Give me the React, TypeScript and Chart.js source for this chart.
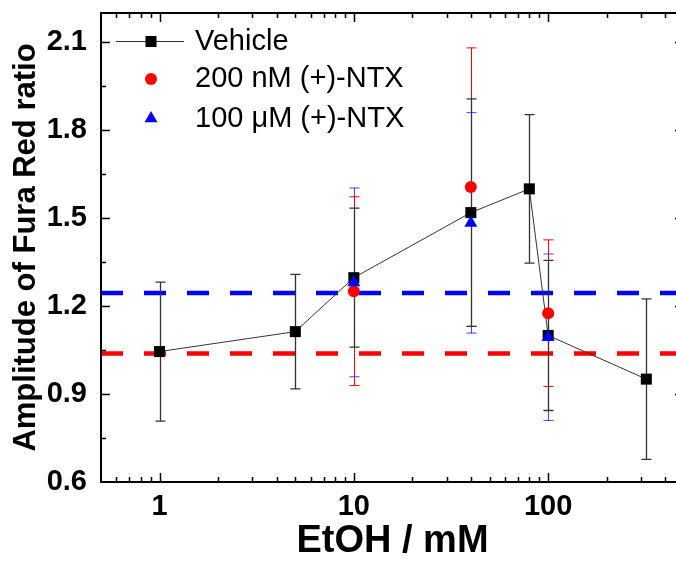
import React, { useEffect, useRef } from "react";
import { Chart, registerables } from "chart.js";

Chart.register(...registerables);

// EtOH concentrations (mM) and Fura Red amplitude, mean ± SD
const vehicleConc = [1, 5, 10, 40, 80, 100, 320];
const vehicleMean = [1.045, 1.113, 1.297, 1.519, 1.6, 1.1, 0.951];
const vehicleSd = [0.237, 0.195, 0.237, 0.388, 0.253, 0.256, 0.274];

const ntxConc = [10, 40, 100];
const ntxLowMean = [1.251, 1.606, 1.176]; // 200 nM (+)-NTX
const ntxLowSd = [0.322, 0.475, 0.25];
const ntxHighMean = [1.281, 1.484, 1.094]; // 100 µM (+)-NTX
const ntxHighSd = [0.322, 0.376, 0.284];

// Baselines without EtOH
const baseLow = 1.038; // 200 nM (+)-NTX
const baseHigh = 1.245; // 100 µM (+)-NTX

const xRange = [0.5, 500];
const yRange = [0.6, 2.2];
const xTicks = [1, 10, 100];
const yTicks = [0.6, 0.9, 1.2, 1.5, 1.8, 2.1];

const legendLabels = ["Vehicle", "200 nM (+)-NTX", "100 \u03bcM (+)-NTX"];

const FONT = "'Liberation Sans', Arial, sans-serif";
const RED = "#ff0000";
const BLUE = "#0000ff";

const pts = (xs: number[], ys: number[]) => xs.map((x, i) => ({ x, y: ys[i] }));

// Error bars for every dataset that carries a yErr array, drawn beneath the markers
const errorBarPlugin = {
  id: "errorBars",
  beforeDatasetDraw(chart: any, args: any) {
    if (args.index !== 2) return;
    const { ctx } = chart;
    const xs = chart.scales.x;
    const ys = chart.scales.y;
    ctx.save();
    chart.data.datasets.forEach((ds: any) => {
      if (!ds.yErr) return;
      ctx.strokeStyle = ds.errColor;
      ctx.lineWidth = ds.errWidth;
      ds.data.forEach((p: any, i: number) => {
        const px = Math.round(xs.getPixelForValue(p.x)) + 0.5;
        const top = ys.getPixelForValue(p.y + ds.yErr[i]);
        const bot = ys.getPixelForValue(p.y - ds.yErr[i]);
        ctx.beginPath();
        ctx.moveTo(px, top);
        ctx.lineTo(px, bot);
        ctx.moveTo(px - 5, top);
        ctx.lineTo(px + 5, top);
        ctx.moveTo(px - 5, bot);
        ctx.lineTo(px + 5, bot);
        ctx.stroke();
      });
    });
    ctx.restore();
  },
};

// Box frame with inward major/minor ticks on all four sides
const framePlugin = {
  id: "frame",
  afterDatasetsDraw(chart: any) {
    const { ctx, chartArea: a } = chart;
    const xs = chart.scales.x;
    const ys = chart.scales.y;
    ctx.save();
    ctx.strokeStyle = "#000";
    ctx.lineWidth = 2;
    ctx.strokeRect(a.left, a.top, a.right - a.left, a.bottom - a.top);
    ctx.lineWidth = 1.5;
    const major = 9;
    const minor = 5;
    const xMarks: [number, number][] = [];
    for (let e = Math.floor(Math.log10(xRange[0])); e <= Math.ceil(Math.log10(xRange[1])); e++) {
      for (let m = 1; m <= 9; m++) {
        const v = m * Math.pow(10, e);
        if (v > xRange[0] * 1.0001 && v < xRange[1] * 0.9999) xMarks.push([v, m === 1 ? major : minor]);
      }
    }
    ctx.beginPath();
    xMarks.forEach(([v, len]) => {
      const px = Math.round(xs.getPixelForValue(v)) + 0.5;
      ctx.moveTo(px, a.bottom);
      ctx.lineTo(px, a.bottom - len);
      ctx.moveTo(px, a.top);
      ctx.lineTo(px, a.top + len);
    });
    const step = yTicks[1] - yTicks[0];
    for (let v = yRange[0]; v < yRange[1] - 1e-6; v += step / 2) {
      if (v <= yRange[0] + 1e-6) continue;
      const isMajor = yTicks.some((t) => Math.abs(t - v) < 1e-6);
      const len = isMajor ? major : minor;
      const py = Math.round(ys.getPixelForValue(v)) + 0.5;
      ctx.moveTo(a.left, py);
      ctx.lineTo(a.left + len, py);
      ctx.moveTo(a.right, py);
      ctx.lineTo(a.right - len, py);
    }
    ctx.stroke();
    ctx.restore();
  },
};

// Legend block in the upper-left corner of the plot
const legendPlugin = {
  id: "boxLegend",
  afterDraw(chart: any) {
    const { ctx, chartArea: a } = chart;
    const mx = a.left + 50;
    const tx = a.left + 94;
    const rows = [a.top + 28.5, a.top + 66, a.top + 105.5];
    ctx.save();
    // Vehicle: line + square
    ctx.strokeStyle = "#333";
    ctx.lineWidth = 1;
    ctx.beginPath();
    ctx.moveTo(a.left + 15, rows[0]);
    ctx.lineTo(a.left + 83, rows[0]);
    ctx.stroke();
    ctx.fillStyle = "#000";
    ctx.fillRect(mx - 5.5, rows[0] - 5.5, 11, 11);
    // 200 nM: circle
    ctx.fillStyle = RED;
    ctx.beginPath();
    ctx.arc(mx, rows[1], 6, 0, Math.PI * 2);
    ctx.fill();
    // 100 µM: triangle
    ctx.fillStyle = BLUE;
    const r = 7.5;
    ctx.beginPath();
    ctx.moveTo(mx, rows[2] - r);
    ctx.lineTo(mx + r * 0.866, rows[2] + r / 2);
    ctx.lineTo(mx - r * 0.866, rows[2] + r / 2);
    ctx.closePath();
    ctx.fill();
    ctx.fillStyle = "#000";
    ctx.font = `29px ${FONT}`;
    ctx.textBaseline = "middle";
    ctx.textAlign = "left";
    legendLabels.forEach((t, i) => ctx.fillText(t, tx, rows[i]));
    ctx.restore();
  },
};

export default function App() {
  const ref = useRef<HTMLCanvasElement | null>(null);

  useEffect(() => {
    if (!ref.current) return;
    const chart = new Chart(ref.current, {
      type: "line",
      data: {
        datasets: [
          {
            label: "100 µM (+)-NTX",
            data: pts(ntxConc, ntxHighMean),
            showLine: false,
            pointStyle: "triangle",
            pointRadius: 7.5,
            pointBorderWidth: 0,
            pointBackgroundColor: BLUE,
            borderColor: BLUE,
            order: 0,
            yErr: ntxHighSd,
            errColor: "rgba(0,0,255,0.75)",
            errWidth: 1,
          } as any,
          {
            label: "200 nM (+)-NTX",
            data: pts(ntxConc, ntxLowMean),
            showLine: false,
            pointStyle: "circle",
            pointRadius: 6,
            pointBorderWidth: 0,
            pointBackgroundColor: RED,
            borderColor: RED,
            order: 1,
            yErr: ntxLowSd,
            errColor: RED,
            errWidth: 1,
          } as any,
          {
            label: "Vehicle",
            data: pts(vehicleConc, vehicleMean),
            borderColor: "#333",
            borderWidth: 1,
            pointStyle: "rect",
            pointRadius: 7.8,
            pointBorderWidth: 0,
            pointBackgroundColor: "#000",
            tension: 0,
            order: 2,
            yErr: vehicleSd,
            errColor: "#333",
            errWidth: 1.3,
          } as any,
          {
            label: "baseline 200 nM",
            data: pts(xRange, [baseLow, baseLow]),
            borderColor: RED,
            borderWidth: 4.5,
            borderDash: [22, 21],
            pointRadius: 0,
            order: 3,
          },
          {
            label: "baseline 100 µM",
            data: pts(xRange, [baseHigh, baseHigh]),
            borderColor: BLUE,
            borderWidth: 4.5,
            borderDash: [22, 21],
            pointRadius: 0,
            order: 4,
          },
        ],
      },
      options: {
        animation: false,
        responsive: false,
        events: [],
        layout: { padding: { left: 0, right: 16, top: 13, bottom: 0 } },
        plugins: { legend: { display: false }, tooltip: { enabled: false } },
        scales: {
          x: {
            type: "logarithmic",
            min: xRange[0],
            max: xRange[1],
            grid: { display: false },
            border: { display: false },
            ticks: {
              autoSkip: false,
              maxRotation: 0,
              padding: 2,
              color: "#000",
              font: { family: FONT, size: 29, weight: "bold", lineHeight: 1 },
              callback: (v: any) => String(v),
            },
            afterBuildTicks: (s: any) => {
              s.ticks = xTicks.map((v) => ({ value: v }));
            },
            afterFit: (s: any) => {
              s.height = 79;
              s.paddingLeft = 0;
              s.paddingRight = 0;
            },
            title: {
              display: true,
              text: "EtOH / mM",
              color: "#000",
              font: { family: FONT, size: 38, weight: "bold", lineHeight: 1 },
              padding: { top: 0, bottom: 0 },
            },
          },
          y: {
            type: "linear",
            min: yRange[0],
            max: yRange[1],
            grid: { display: false },
            border: { display: false },
            ticks: {
              padding: 6,
              color: "#000",
              font: { family: FONT, size: 29, weight: "bold", lineHeight: 1 },
              callback: (v: any) => Number(v).toFixed(1),
            },
            afterBuildTicks: (s: any) => {
              s.ticks = yTicks.map((v) => ({ value: v }));
            },
            afterFit: (s: any) => {
              s.width = 101;
              s.paddingTop = 0;
              s.paddingBottom = 0;
            },
            title: {
              display: true,
              text: "Amplitude of Fura Red ratio",
              color: "#000",
              font: { family: FONT, size: 31, weight: "bold", lineHeight: 1 },
              padding: { top: 11, bottom: 0 },
            },
          },
        },
      },
      plugins: [errorBarPlugin, framePlugin, legendPlugin],
    });
    return () => chart.destroy();
  }, []);

  return (
    <div
      style={{
        position: "fixed",
        left: 0,
        top: 0,
        width: 676,
        height: 561,
        overflow: "hidden",
        background: "#fff",
      }}
    >
      <canvas ref={ref} width={700} height={561} style={{ display: "block", width: 700, height: 561 }} />
    </div>
  );
}
